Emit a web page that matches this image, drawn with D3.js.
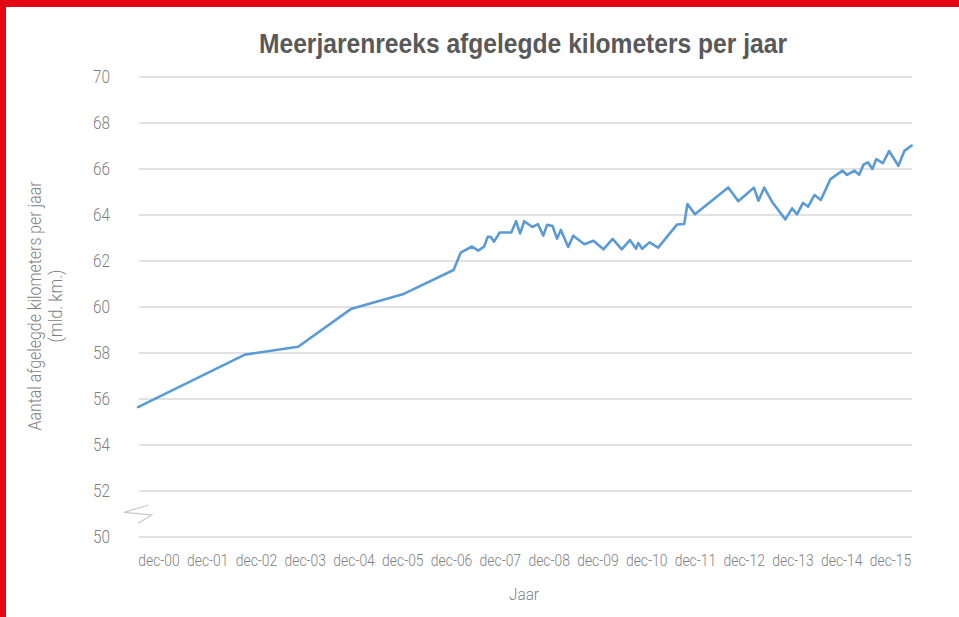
<!DOCTYPE html>
<html>
<head>
<meta charset="utf-8">
<script src="https://cdn.jsdelivr.net/npm/d3@7"></script>
<style>
  html, body { margin: 0; padding: 0; background: #ffffff; }
  svg { display: block; }
  .lbl { font-family: Roboto, "Liberation Sans", sans-serif; font-weight: 300; fill: #7f7f7f; }
</style>
</head>
<body>
<svg id="chart" width="959" height="617"></svg>
<script>
// ---- data ----
const dates = [
  "2000-07-01","2002-09-09","2003-10-13","2004-11-10","2005-12-04","2006-12-20",
  "2007-02-11","2007-05-07","2007-06-22","2007-08-06","2007-09-01","2007-09-23",
  "2007-10-19","2007-11-30","2008-02-25","2008-04-01","2008-05-01","2008-06-01",
  "2008-08-01","2008-09-12","2008-10-22","2008-11-19","2008-12-30","2009-02-01",
  "2009-03-02","2009-04-26","2009-06-03","2009-08-25","2009-11-01","2010-01-15",
  "2010-03-25","2010-06-01","2010-08-01","2010-09-16","2010-10-03","2010-11-01",
  "2010-12-26","2011-03-01","2011-07-21","2011-09-12","2011-10-06","2011-12-01",
  "2012-08-07","2012-10-21","2013-02-15","2013-03-21","2013-05-03","2013-06-30",
  "2013-10-08","2013-11-28","2014-01-04","2014-02-17","2014-03-28","2014-05-15",
  "2014-07-01","2014-09-11","2014-12-10","2015-01-13","2015-03-10","2015-04-14",
  "2015-05-17","2015-06-18","2015-07-22","2015-08-20","2015-10-09","2015-11-24",
  "2016-02-02","2016-03-18","2016-05-11"
];
const values = [
  55.65,57.93,58.27,59.91,60.55,61.61,
  62.36,62.63,62.45,62.63,63.05,63.05,
  62.84,63.24,63.24,63.73,63.20,63.73,
  63.48,63.60,63.10,63.57,63.52,62.97,
  63.35,62.61,63.10,62.73,62.88,62.51,
  62.96,62.51,62.91,62.53,62.78,62.53,
  62.81,62.58,63.59,63.61,64.48,64.03,
  65.20,64.60,65.19,64.62,65.19,64.58,
  63.81,64.29,64.03,64.53,64.36,64.87,
  64.65,65.56,65.93,65.74,65.93,65.75,
  66.19,66.29,66.00,66.43,66.26,66.78,
  66.14,66.79,67.02
];
const yTicks = [50,52,54,56,58,60,62,64,66,68,70];
const xTickDates = ["2000-12-01","2001-12-01","2002-12-01","2003-12-01","2004-12-01","2005-12-01",
  "2006-12-01","2007-12-01","2008-12-01","2009-12-01","2010-12-01","2011-12-01",
  "2012-12-01","2013-12-01","2014-12-01","2015-12-01"];
const xTickLabels = ["dec-00","dec-01","dec-02","dec-03","dec-04","dec-05","dec-06","dec-07",
  "dec-08","dec-09","dec-10","dec-11","dec-12","dec-13","dec-14","dec-15"];
const title = "Meerjarenreeks afgelegde kilometers per jaar";
const yTitle1 = "Aantal afgelegde kilometers per jaar";
const yTitle2 = "(mld. km.)";
const xTitle = "Jaar";

// ---- drawing ----
const parse = d3.timeParse("%Y-%m-%d");
const svg = d3.select("#chart");
const W = 959, H = 617;
const plotL = 139, plotR = 912, plotT = 77, plotB = 537;

// red frame (left and top)
svg.append("rect").attr("x", 0).attr("y", 0).attr("width", W).attr("height", H).attr("fill", "#fff");
svg.append("rect").attr("x", 0).attr("y", 0).attr("width", 6).attr("height", H).attr("fill", "#e30613");
svg.append("rect").attr("x", 0).attr("y", 0).attr("width", W).attr("height", 7).attr("fill", "#e30613");

const x = d3.scaleTime()
  .domain([parse("2000-12-01"), parse("2015-12-01")])
  .range([158.5, 890]);
const y = d3.scaleLinear().domain([50, 70]).range([plotB, plotT]);

// gridlines
svg.append("g").selectAll("line").data(yTicks).join("line")
  .attr("x1", plotL).attr("x2", plotR)
  .attr("y1", d => y(d)).attr("y2", d => y(d))
  .attr("stroke", "#d9d9d9").attr("stroke-width", 1.3);

// y axis labels
const yAxis = svg.append("g").attr("transform", `translate(${plotL},0)`)
  .call(d3.axisLeft(y).tickValues(yTicks).tickSize(0).tickPadding(29).tickFormat(d3.format("d")));
yAxis.select(".domain").remove();
yAxis.selectAll("text").attr("class", "lbl").style("font-size", "18px").attr("font-family", null)
  .attr("textLength", 17).attr("lengthAdjust", "spacingAndGlyphs");

// x axis labels
const xAxis = svg.append("g").attr("transform", `translate(0,${plotB})`)
  .call(d3.axisBottom(x).tickValues(xTickDates.map(parse)).tickSize(0).tickPadding(17)
    .tickFormat((d, i) => xTickLabels[i]));
xAxis.select(".domain").remove();
xAxis.selectAll("text").attr("class", "lbl").style("font-size", "16.5px").attr("font-family", null)
  .attr("textLength", 41.5).attr("lengthAdjust", "spacingAndGlyphs");

// axis break symbol
svg.append("polyline")
  .attr("points", "148.5,505 124,512.3 151.7,515 138.3,523.3")
  .attr("fill", "none").attr("stroke", "#c8c8c8").attr("stroke-width", 1.2);

// line
const line = d3.line().x((d, i) => x(parse(dates[i]))).y(d => y(d));
svg.append("path").datum(values)
  .attr("d", line)
  .attr("fill", "none").attr("stroke", "#5b9bd5").attr("stroke-width", 2.6)
  .attr("stroke-linejoin", "round").attr("stroke-linecap", "round");

// title
svg.append("text").attr("x", 523).attr("y", 53).attr("text-anchor", "middle")
  .attr("font-family", "'Liberation Sans', Arial, sans-serif")
  .attr("font-weight", "bold").attr("font-size", 27).attr("fill", "#595959")
  .attr("textLength", 528).attr("lengthAdjust", "spacingAndGlyphs")
  .text(title);

// y title
const yt = svg.append("g").attr("transform", "translate(0,306) rotate(-90)");
yt.append("text").attr("class", "lbl").attr("x", 0).attr("y", 41).attr("text-anchor", "middle")
  .style("font-size", "17.5px").attr("textLength", 249).attr("lengthAdjust", "spacingAndGlyphs")
  .text(yTitle1);
yt.append("text").attr("class", "lbl").attr("x", 0).attr("y", 62).attr("text-anchor", "middle")
  .style("font-size", "17.5px").attr("textLength", 73).attr("lengthAdjust", "spacingAndGlyphs")
  .text(yTitle2);

// x title
svg.append("text").attr("class", "lbl").attr("x", 524).attr("y", 600).attr("text-anchor", "middle")
  .style("font-size", "17px").attr("textLength", 30).attr("lengthAdjust", "spacingAndGlyphs")
  .text(xTitle);
</script>
</body>
</html>
